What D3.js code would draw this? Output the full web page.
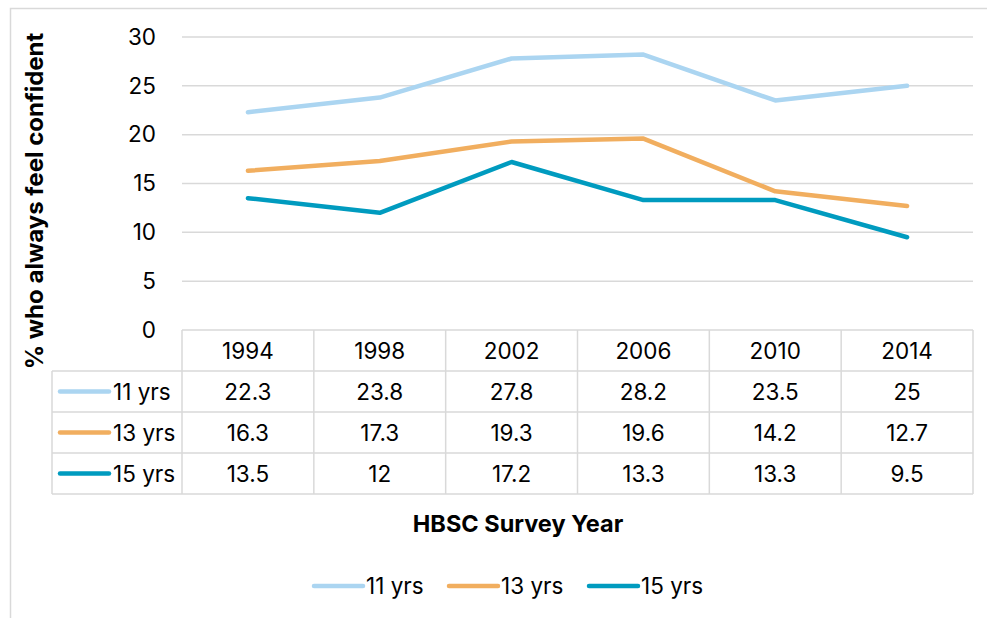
<!DOCTYPE html>
<html lang="en">
<head>
    <meta charset="utf-8">
    <title>HBSC confidence</title>
    <script src="https://cdn.jsdelivr.net/npm/d3@7"></script>
    <style>
        body { margin: 0; background: #fff; }
        text { font-family: Inter, "Noto Sans", sans-serif; fill: #000; }
    </style>
</head>
<body>
<script>
    // data
    var years = ["1994", "1998", "2002", "2006", "2010", "2014"];
    var seriesNames = ["11 yrs", "13 yrs", "15 yrs"];
    var yrs11 = [22.3, 23.8, 27.8, 28.2, 23.5, 25];
    var yrs13 = [16.3, 17.3, 19.3, 19.6, 14.2, 12.7];
    var yrs15 = [13.5, 12, 17.2, 13.3, 13.3, 9.5];
    var yTicks = [0, 5, 10, 15, 20, 25, 30];
    var colors = ["#abd5f1", "#f1ae5f", "#009bbf"];

    var series = [yrs11, yrs13, yrs15].map(function (v, i) {
        return {name: seriesNames[i], color: colors[i], values: v};
    });

    var W = 987, H = 618;
    var plotLeft = 182, plotRight = 973, plotTop = 37, plotBottom = 330;
    var rowH = 41;
    var tableLeft = 52;
    var grid = "#d9d9d9";
    var fs = "22.5px";

    var svg = d3.select("body").append("svg")
        .attr("width", W)
        .attr("height", H);

    // outer chart frame (cropped at right/bottom)
    svg.append("rect")
        .attr("x", 10.5).attr("y", 8.5)
        .attr("width", 1000).attr("height", 700)
        .attr("fill", "none")
        .attr("stroke", grid)
        .attr("stroke-width", 1.5);

    var xScale = d3.scaleBand()
        .domain(years)
        .range([plotLeft, plotRight])
        .padding(0);

    var yScale = d3.scaleLinear()
        .domain([0, 30])
        .range([plotBottom, plotTop]);

    var cx = function (d) { return xScale(d) + xScale.bandwidth() / 2; };

    // gridlines
    svg.append("g").selectAll("line")
        .data(yTicks.filter(function (d) { return d > 0; }))
        .enter().append("line")
        .attr("x1", plotLeft).attr("x2", plotRight)
        .attr("y1", function (d) { return yScale(d); })
        .attr("y2", function (d) { return yScale(d); })
        .attr("stroke", grid)
        .attr("stroke-width", 1.5);

    // y axis labels
    var yAxis = d3.axisLeft(yScale)
        .tickValues(yTicks)
        .tickSize(0)
        .tickPadding(0);

    var gy = svg.append("g")
        .attr("transform", "translate(156,0)")
        .call(yAxis);
    gy.select(".domain").remove();
    gy.selectAll("text")
        .style("font-size", fs)
        .style("font-family", "Inter, sans-serif")
        .attr("fill", "#000");

    svg.append("text")
        .attr("transform", "translate(43,201) rotate(-90)")
        .attr("text-anchor", "middle")
        .style("font-size", "24px")
        .style("font-weight", "bold")
        .text("% who always feel confident");

    // lines
    var line = d3.line()
        .x(function (d, i) { return cx(years[i]); })
        .y(function (d) { return yScale(d); });

    svg.append("g").selectAll("path")
        .data(series)
        .enter().append("path")
        .attr("d", function (d) { return line(d.values); })
        .attr("fill", "none")
        .attr("stroke", function (d) { return d.color; })
        .attr("stroke-width", 4.5)
        .attr("stroke-linejoin", "round")
        .attr("stroke-linecap", "round");

    // data table
    var table = svg.append("g");
    var tableBottom = plotBottom + rowH * 4;

    table.append("line")
        .attr("x1", plotLeft).attr("x2", plotRight)
        .attr("y1", plotBottom).attr("y2", plotBottom)
        .attr("stroke", grid).attr("stroke-width", 1.5);
    for (var r = 1; r <= 4; r++) {
        table.append("line")
            .attr("x1", tableLeft).attr("x2", plotRight)
            .attr("y1", plotBottom + rowH * r).attr("y2", plotBottom + rowH * r)
            .attr("stroke", grid).attr("stroke-width", 1.5);
    }
    table.append("line")
        .attr("x1", tableLeft).attr("x2", tableLeft)
        .attr("y1", plotBottom + rowH).attr("y2", tableBottom)
        .attr("stroke", grid).attr("stroke-width", 1.5);
    table.selectAll(".vline")
        .data(years.concat(["end"]))
        .enter().append("line")
        .attr("class", "vline")
        .attr("x1", function (d) { return d === "end" ? plotRight : xScale(d); })
        .attr("x2", function (d) { return d === "end" ? plotRight : xScale(d); })
        .attr("y1", plotBottom).attr("y2", tableBottom)
        .attr("stroke", grid).attr("stroke-width", 1.5);

    table.selectAll(".yr")
        .data(years)
        .enter().append("text")
        .attr("class", "yr")
        .attr("x", cx)
        .attr("y", plotBottom + rowH / 2)
        .attr("dy", "0.36em")
        .attr("text-anchor", "middle")
        .style("font-size", fs)
        .text(function (d) { return d; });

    series.forEach(function (s, i) {
        var ry = plotBottom + rowH * (i + 1) + rowH / 2;
        table.append("line")
            .attr("x1", 60).attr("x2", 109)
            .attr("y1", ry).attr("y2", ry)
            .attr("stroke", s.color)
            .attr("stroke-width", 4.5)
            .attr("stroke-linecap", "round");
        table.append("text")
            .attr("x", 113).attr("y", ry)
            .attr("dy", "0.36em")
            .style("font-size", fs)
            .text(s.name);
        table.selectAll(".v" + i)
            .data(s.values)
            .enter().append("text")
            .attr("class", "v" + i)
            .attr("x", function (d, j) { return cx(years[j]); })
            .attr("y", ry)
            .attr("dy", "0.36em")
            .attr("text-anchor", "middle")
            .style("font-size", fs)
            .text(function (d) { return d; });
    });

    // x axis title
    svg.append("text")
        .attr("x", 518).attr("y", 532)
        .attr("text-anchor", "middle")
        .style("font-size", "23.5px")
        .style("font-weight", "bold")
        .text("HBSC Survey Year");

    // legend
    var legendX = [312, 447, 587];
    var legend = svg.append("g").selectAll("g")
        .data(series)
        .enter().append("g")
        .attr("transform", function (d, i) { return "translate(" + legendX[i] + ",586)"; });
    legend.append("line")
        .attr("x1", 2).attr("x2", 51)
        .attr("stroke", function (d) { return d.color; })
        .attr("stroke-width", 4.5)
        .attr("stroke-linecap", "round");
    legend.append("text")
        .attr("x", 54)
        .attr("dy", "0.36em")
        .style("font-size", fs)
        .text(function (d) { return d.name; });
</script>
</body>
</html>
